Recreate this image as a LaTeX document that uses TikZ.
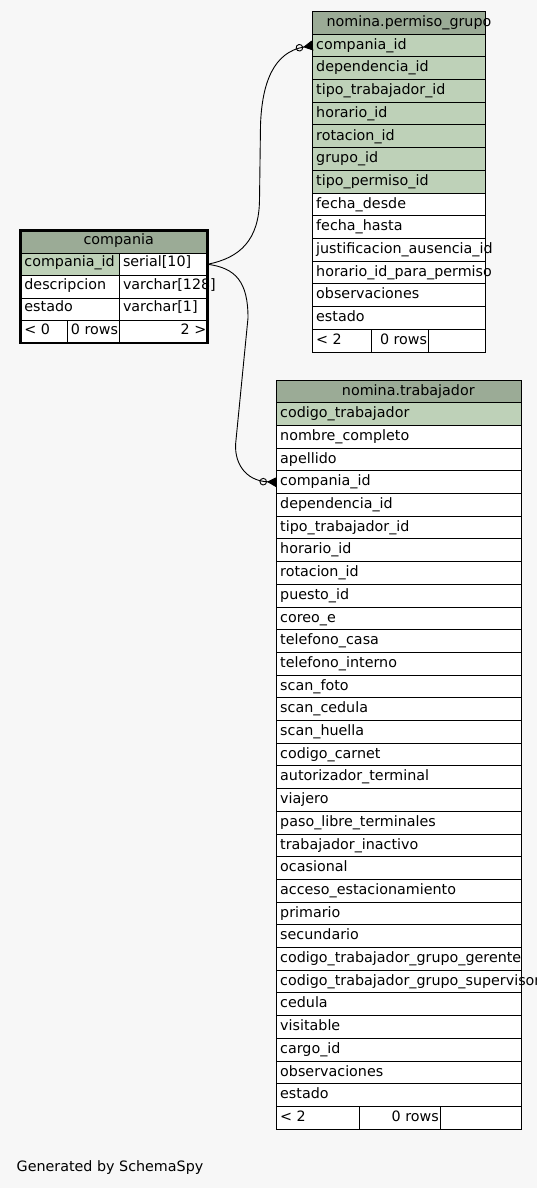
\documentclass[tikz,border=0pt]{standalone}
\usepackage{fontspec}
\setmainfont{DejaVu Sans}
\usetikzlibrary{positioning,arrows.meta}

\definecolor{erback}{HTML}{F7F7F7}
\definecolor{erhead}{HTML}{9BAB96}
\definecolor{erkey}{HTML}{BED1B8}

\tikzset{
	cell/.style = {draw, line width=1pt, fill=white, minimum height=22.7pt, inner sep=0pt, outer sep=0pt, anchor=north west},
	ccell/.style = {cell, minimum height=22.5pt},
	txt/.style = {anchor=base west, inner sep=0pt, xshift=3.5pt, yshift=-15pt},
	rtxt/.style = {anchor=base east, inner sep=0pt, xshift=-1pt, yshift=-15pt},
	head/.style = {anchor=base, inner sep=0pt, yshift=-15pt},
	ctxt/.style = {txt, yshift=1.5pt},
	crtxt/.style = {rtxt, yshift=1.5pt},
	fk/.style = {line width=0.9pt, -{Circle[open,length=7.5pt,width=7.5pt] Triangle[reversed,length=9.5pt,width=10pt]}}
}

\begin{document}
\begin{tikzpicture}[x=1pt, y=-1pt, font=\fontsize{14.3}{17}\selectfont]
	\path[use as bounding box, fill=erback] (0,0) rectangle (537,1188);

	% nomina.permiso_grupo
	\node[cell, fill=erhead, minimum width=173pt] (pg0) at (312.5,11.5) {};
	\node[head, xshift=10pt] (pg0-t) at (pg0.north) {nomina.permiso\_grupo};
	\foreach \fld/\fc [count=\i] in {compania\_id/erkey, dependencia\_id/erkey, tipo\_trabajador\_id/erkey, horario\_id/erkey, rotacion\_id/erkey, grupo\_id/erkey, tipo\_permiso\_id/erkey, fecha\_desde/white, fecha\_hasta/white, justificacion\_ausencia\_id/white, horario\_id\_para\_permiso/white, observaciones/white, estado/white}{
		\node[cell, fill=\fc, minimum width=173pt] (pg\i) at (312.5,11.5+22.7*\i) {};
		\node[txt] (pg\i-t) at (pg\i.north west) {\fld};
	}
	\node[cell, minimum width=58.8pt] (pg14a) at (312.5,329.3) {};
	\node[cell, minimum width=57pt, right=0pt of pg14a] (pg14b) {};
	\node[cell, minimum width=57.2pt, right=0pt of pg14b] (pg14c) {};
	\node[txt] (pg14a-t) at (pg14a.north west) {< 2};
	\node[rtxt] (pg14b-t) at (pg14b.north east) {0 rows};

	% compania
	\node[ccell, fill=erhead, minimum width=186.8pt] (co0) at (20.7,230.5) {};
	\node[head, xshift=4.6pt, yshift=1.5pt] (co0-t) at (co0.north) {compania};
	\foreach \fld/\typ/\fc [count=\i] in {compania\_id/serial[10]/erkey, descripcion/varchar[128]/white, estado/varchar[1]/white}{
		\node[ccell, fill=\fc, minimum width=98.6pt] (co\i a) at (20.7,230.5+22.5*\i) {};
		\node[ccell, minimum width=88.2pt, right=0pt of co\i a] (co\i b) {};
		\node[ctxt] (co\i a-t) at (co\i a.north west) {\fld};
		\node[ctxt] (co\i b-t) at (co\i b.north west) {\typ};
	}
	\node[ccell, minimum width=47pt] (co4a) at (20.7,320.5) {};
	\node[ccell, minimum width=51.6pt, right=0pt of co4a] (co4b) {};
	\node[ccell, minimum width=88.2pt, right=0pt of co4b] (co4c) {};
	\node[ctxt] (co4a-t) at (co4a.north west) {< 0};
	\node[crtxt] (co4b-t) at (co4b.north east) {0 rows};
	\node[crtxt] (co4c-t) at (co4c.north east) {2 >};
	\draw[line width=2.5pt] (co0.north west) rectangle (co4c.south east);

	% nomina.trabajador
	\node[cell, fill=erhead, minimum width=245pt] (tr0) at (276.5,380) {};
	\node[head, xshift=9.3pt] (tr0-t) at (tr0.north) {nomina.trabajador};
	\foreach \fld/\fc [count=\i] in {codigo\_trabajador/erkey, nombre\_completo/white, apellido/white, compania\_id/white, dependencia\_id/white, tipo\_trabajador\_id/white, horario\_id/white, rotacion\_id/white, puesto\_id/white, coreo\_e/white, telefono\_casa/white, telefono\_interno/white, scan\_foto/white, scan\_cedula/white, scan\_huella/white, codigo\_carnet/white, autorizador\_terminal/white, viajero/white, paso\_libre\_terminales/white, trabajador\_inactivo/white, ocasional/white, acceso\_estacionamiento/white, primario/white, secundario/white, codigo\_trabajador\_grupo\_gerente/white, codigo\_trabajador\_grupo\_supervisor/white, cedula/white, visitable/white, cargo\_id/white, observaciones/white, estado/white}{
		\node[cell, fill=\fc, minimum width=245pt] (tr\i) at (276.5,380+22.7*\i) {};
		\node[txt] (tr\i-t) at (tr\i.north west) {\fld};
	}
	\node[cell, minimum width=82.8pt] (tr32a) at (276.5,1106.4) {};
	\node[cell, minimum width=80.7pt, right=0pt of tr32a] (tr32b) {};
	\node[cell, minimum width=81.5pt, right=0pt of tr32b] (tr32c) {};
	\node[txt] (tr32a-t) at (tr32a.north west) {< 2};
	\node[rtxt] (tr32b-t) at (tr32b.north east) {0 rows};

	% foreign keys
	\draw[fk] (co1b.east) .. controls (240,258) and (259,240) .. (259.5,200) -- (260.5,125) .. controls (262,82) and (274,52) .. (pg1.west);
	\draw[fk] (co1b.east) .. controls (236,268) and (248,282) .. (248,318) -- (236,440) .. controls (233,462) and (245,481) .. (tr4.west);

	\node[anchor=base west, inner sep=0pt] (gen) at (16.5,1171.7) {Generated by SchemaSpy};
\end{tikzpicture}
\end{document}
